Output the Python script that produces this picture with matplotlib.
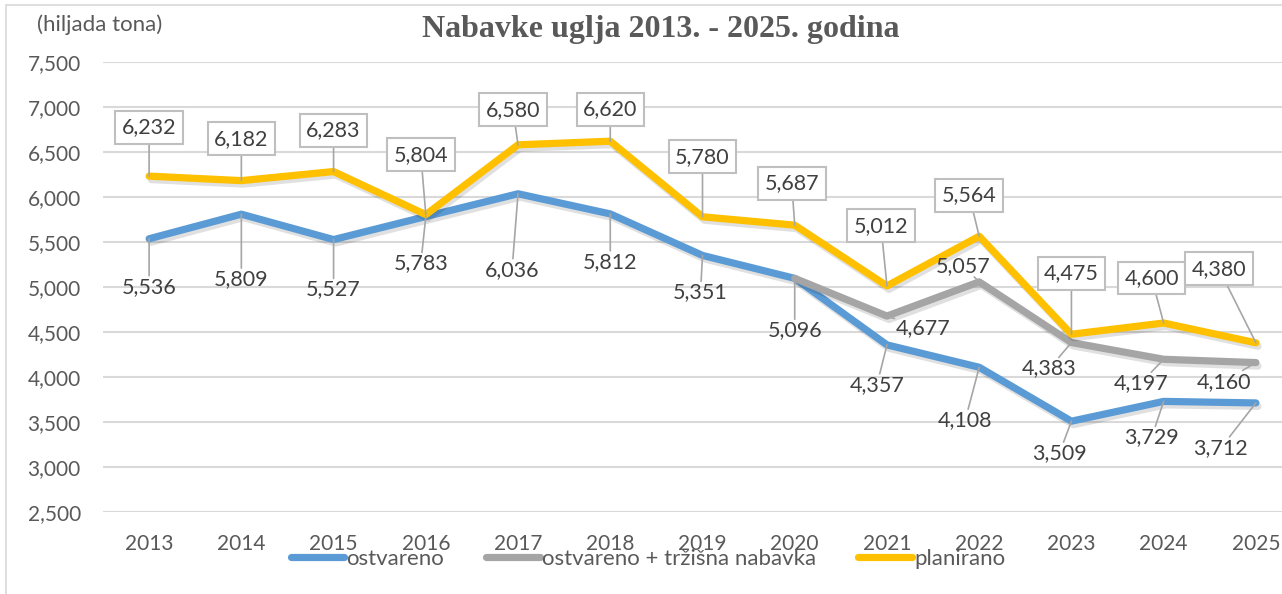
import numpy as np
import matplotlib
matplotlib.use("Agg")
import matplotlib.pyplot as plt
import matplotlib.patheffects as pe
from matplotlib.lines import Line2D
from matplotlib.patches import Rectangle

plt.rcParams['font.family'] = ['Lato', 'DejaVu Sans']

# data (hiljada tona)
years = ['2013', '2014', '2015', '2016', '2017', '2018', '2019',
         '2020', '2021', '2022', '2023', '2024', '2025']
ostvareno = [5536, 5809, 5527, 5783, 6036, 5812, 5351, 5096, 4357, 4108, 3509, 3729, 3712]
trzisna = [np.nan] * 7 + [5096, 4677, 5057, 4383, 4197, 4160]
planirano = [6232, 6182, 6283, 5804, 6580, 6620, 5780, 5687, 5012, 5564, 4475, 4600, 4380]

# label offsets in pixels (dx right, dy down) from each point
off_plan = [(0, -49), (0, -42), (0, -41), (-5, -60), (-5, -35), (0, -32), (0, -60),
            (-3, -42), (-6, -60), (-10, -41), (0, -61), (-12, -45), (-37, -74)]
off_ostv = [(0, 48), (0, 65), (0, 50), (-5, 47), (-6, 76), (0, 48), (-2, 37),
            (0, 52), (-10, 40), (-14, 53), (-12, 32), (-12, 36), (-35, 45)]
off_trz = [None] * 8 + [(36, 12), (-16, -16), (-22, 26), (-23, 24), (-32, 19)]

blue = '#5B9BD5'
gray = '#A5A5A5'
yellow = '#FFC000'
txt = '#404040'
axc = '#595959'

fig = plt.figure(figsize=(12.82, 5.94), dpi=100)
ax = fig.add_axes([103 / 1282, 1 - 512 / 594, 1199 / 1282, 450 / 594])

x = np.arange(len(years))
shadow = [pe.SimpleLineShadow(offset=(1.5, -2.5), shadow_color='black', alpha=0.12), pe.Normal()]
kw = dict(lw=5.2, solid_capstyle='round', solid_joinstyle='round', path_effects=shadow)
ax.plot(x, ostvareno, color=blue, zorder=3, **kw)
ax.plot(x, trzisna, color=gray, zorder=4, **kw)
ax.plot(x, planirano, color=yellow, zorder=5, **kw)

ax.set_xlim(-0.5, 12.5)
ax.set_ylim(2500, 7500)
ax.set_yticks(np.arange(2500, 7501, 500))
ax.set_yticklabels([f'{v:,}' for v in range(2500, 7501, 500)])
ax.set_xticks(x)
ax.set_xticklabels(years)
ax.tick_params(length=0, labelsize=15, labelcolor=axc)
ax.tick_params(axis='y', pad=16)
ax.tick_params(axis='x', pad=16)
ax.grid(axis='y', color='#D9D9D9', lw=1.5)
ax.set_axisbelow(True)
for s in ax.spines.values():
    s.set_visible(False)


def label(i, v, off, boxed):
    if off is None:
        return
    dx, dy = off
    bbox = dict(boxstyle='square,pad=0.3', fc='white', ec='#BFBFBF', lw=1.5) if boxed \
        else dict(boxstyle='square,pad=0.05', fc='none', ec='none')
    ax.annotate(f'{v:,}', xy=(i, v), xytext=(dx, -dy), textcoords='offset pixels',
                ha='center', va='center', fontsize=15.5, color=txt, bbox=bbox, zorder=6,
                arrowprops=dict(arrowstyle='-', color='#A6A6A6', lw=1.2,
                                shrinkA=0, shrinkB=0))


for i in x:
    label(i, ostvareno[i], off_ostv[i], False)
    if not np.isnan(trzisna[i]):
        label(i, int(trzisna[i]), off_trz[i], False)
    label(i, planirano[i], off_plan[i], True)

fig.text(661 / 1282, 1 - 30 / 594, 'Nabavke uglja 2013. - 2025. godina', ha='center', va='center',
         fontsize=23, fontweight='bold', family='Liberation Serif', color=axc)
fig.text(37 / 1282, 1 - 25 / 594, '(hiljada tona)', ha='left', va='center', fontsize=16, color=axc)

handles = [Line2D([], [], color=c, lw=5.2, solid_capstyle='round') for c in (blue, gray, yellow)]
fig.legend(handles, ['ostvareno', 'ostvareno + tržišna nabavka', 'planirano'],
           loc='center', bbox_to_anchor=(648 / 1282, 1 - 559 / 594), ncol=3, frameon=False,
           fontsize=16, labelcolor=axc, handlelength=2.4, handletextpad=0.1, columnspacing=1.9)

# outer chart border
fig.add_artist(Rectangle((6 / 1282, -0.5), 2, 0.5 + 1 - 5 / 594, transform=fig.transFigure,
                         fill=False, ec='#D9D9D9', lw=1.2))

fig.savefig('out.png', dpi=100, facecolor='white')
